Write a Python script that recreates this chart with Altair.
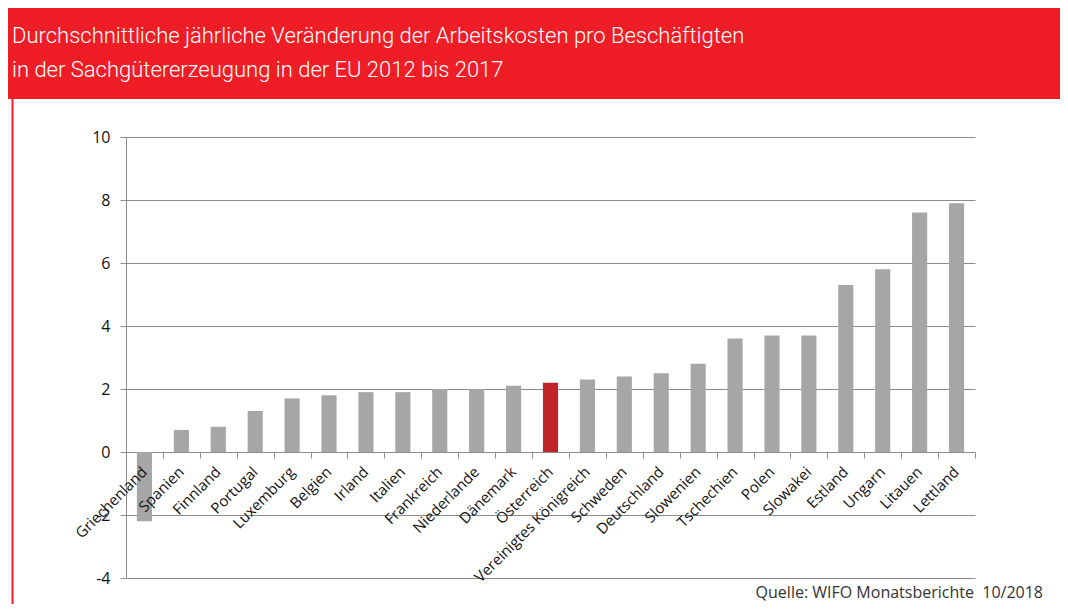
import altair as alt
import pandas as pd

countries = ["Griechenland", "Spanien", "Finnland", "Portugal", "Luxemburg", "Belgien",
             "Irland", "Italien", "Frankreich", "Niederlande", "Dänemark", "Österreich",
             "Vereinigtes Königreich", "Schweden", "Deutschland", "Slowenien", "Tschechien",
             "Polen", "Slowakei", "Estland", "Ungarn", "Litauen", "Lettland"]
values = [-2.2, 0.7, 0.8, 1.3, 1.7, 1.8, 1.9, 1.9, 2.0, 2.0, 2.1, 2.2, 2.3, 2.4, 2.5,
          2.8, 3.6, 3.7, 3.7, 5.3, 5.8, 7.6, 7.9]
highlight = "Österreich"
y_ticks = [-4, -2, 0, 2, 4, 6, 8, 10]
title_line1 = "Durchschnittliche jährliche Veränderung der Arbeitskosten pro Beschäftigten"
title_line2 = "in der Sachgütererzeugung in der EU 2012 bis 2017"
source = "Quelle: WIFO Monatsberichte\u00a0 10/2018"

GRAY = "#a6a6a6"
RED_BAR = "#c1232b"
RED = "#ee1d26"
GRID = "#8c8c8c"

W, H = 849, 441
PL, PT = 118, 129

df = pd.DataFrame({"Land": countries, "Wert": values})
df["farbe"] = [RED_BAR if c == highlight else GRAY for c in countries]
bounds = pd.DataFrame({"b": list(range(len(countries) + 1))})
one = pd.DataFrame({"k": [0]})

zero_offset = -(H - H * 10 / 14)

bars = alt.Chart(df).mark_bar().encode(
    x=alt.X("Land:N", sort=countries,
            scale=alt.Scale(paddingInner=0.59, paddingOuter=0.295),
            axis=alt.Axis(title=None, labelAngle=-45, labelAlign="right", labelBaseline="middle",
                          ticks=False, domain=False, grid=False, offset=zero_offset,
                          labelPadding=17, labelFont="Open Sans", labelFontSize=15,
                          labelColor="#111111", zindex=2, labelOverlap=False)),
    y=alt.Y("Wert:Q", scale=alt.Scale(domain=[-4, 10], nice=False, zero=False),
            axis=alt.Axis(values=y_ticks, title=None, grid=True, gridColor=GRID,
                          gridWidth=1, domainColor=GRID, tickColor=GRID, tickSize=6,
                          labelPadding=10, labelFont="Open Sans", labelFontSize=16,
                          labelColor="#111111", labelExpr="'' + datum.value")),
    color=alt.Color("farbe:N", scale=None),
)

ticks = alt.Chart(bounds).mark_point(opacity=0).encode(
    x=alt.X("b:Q", scale=alt.Scale(domain=[0, len(countries)], nice=False, zero=False),
            axis=alt.Axis(values=list(range(len(countries) + 1)), labels=False, ticks=True,
                          tickSize=6, tickColor=GRID, domain=False, grid=False,
                          offset=zero_offset, title=None, orient="bottom")),
    y=alt.value(0),
)

banner = alt.Chart(one).mark_rect(color=RED).encode(
    x=alt.value(-PL), x2=alt.value(1060 - PL), y=alt.value(-PT), y2=alt.value(99 - 8 - PT)
)
side = alt.Chart(one).mark_rule(color=RED, strokeWidth=2).encode(
    x=alt.value(12.5 - 8 - PL), y=alt.value(99 - 8 - PT), y2=alt.value(596 - PT)
)
t1 = alt.Chart(one).mark_text(align="left", baseline="alphabetic", font="Roboto",
                              fontSize=22, fontWeight=300, color="white").encode(
    x=alt.value(12 - 8 - PL), y=alt.value(43 - 8 - PT), text=alt.value(title_line1))
t2 = alt.Chart(one).mark_text(align="left", baseline="alphabetic", font="Roboto",
                              fontSize=22, fontWeight=300, color="white").encode(
    x=alt.value(12 - 8 - PL), y=alt.value(77 - 8 - PT), text=alt.value(title_line2))
src = alt.Chart(one).mark_text(align="right", baseline="alphabetic", font="Open Sans",
                               fontSize=16, color="#333333").encode(
    x=alt.value(1043 - 8 - PL), y=alt.value(590 - PT), text=alt.value(source))

chart = alt.layer(banner, side, bars, ticks, t1, t2, src).resolve_scale(
    x="independent").resolve_axis(x="independent").properties(
    width=W, height=H,
    padding={"left": PL, "top": PT, "right": 1052 - PL - W, "bottom": 596 - PT - H},
    autosize=alt.AutoSizeParams(type="none"),
    background="white",
).configure_view(stroke=None)

chart.save("out.html", embed_options={"renderer": "svg", "actions": False})
